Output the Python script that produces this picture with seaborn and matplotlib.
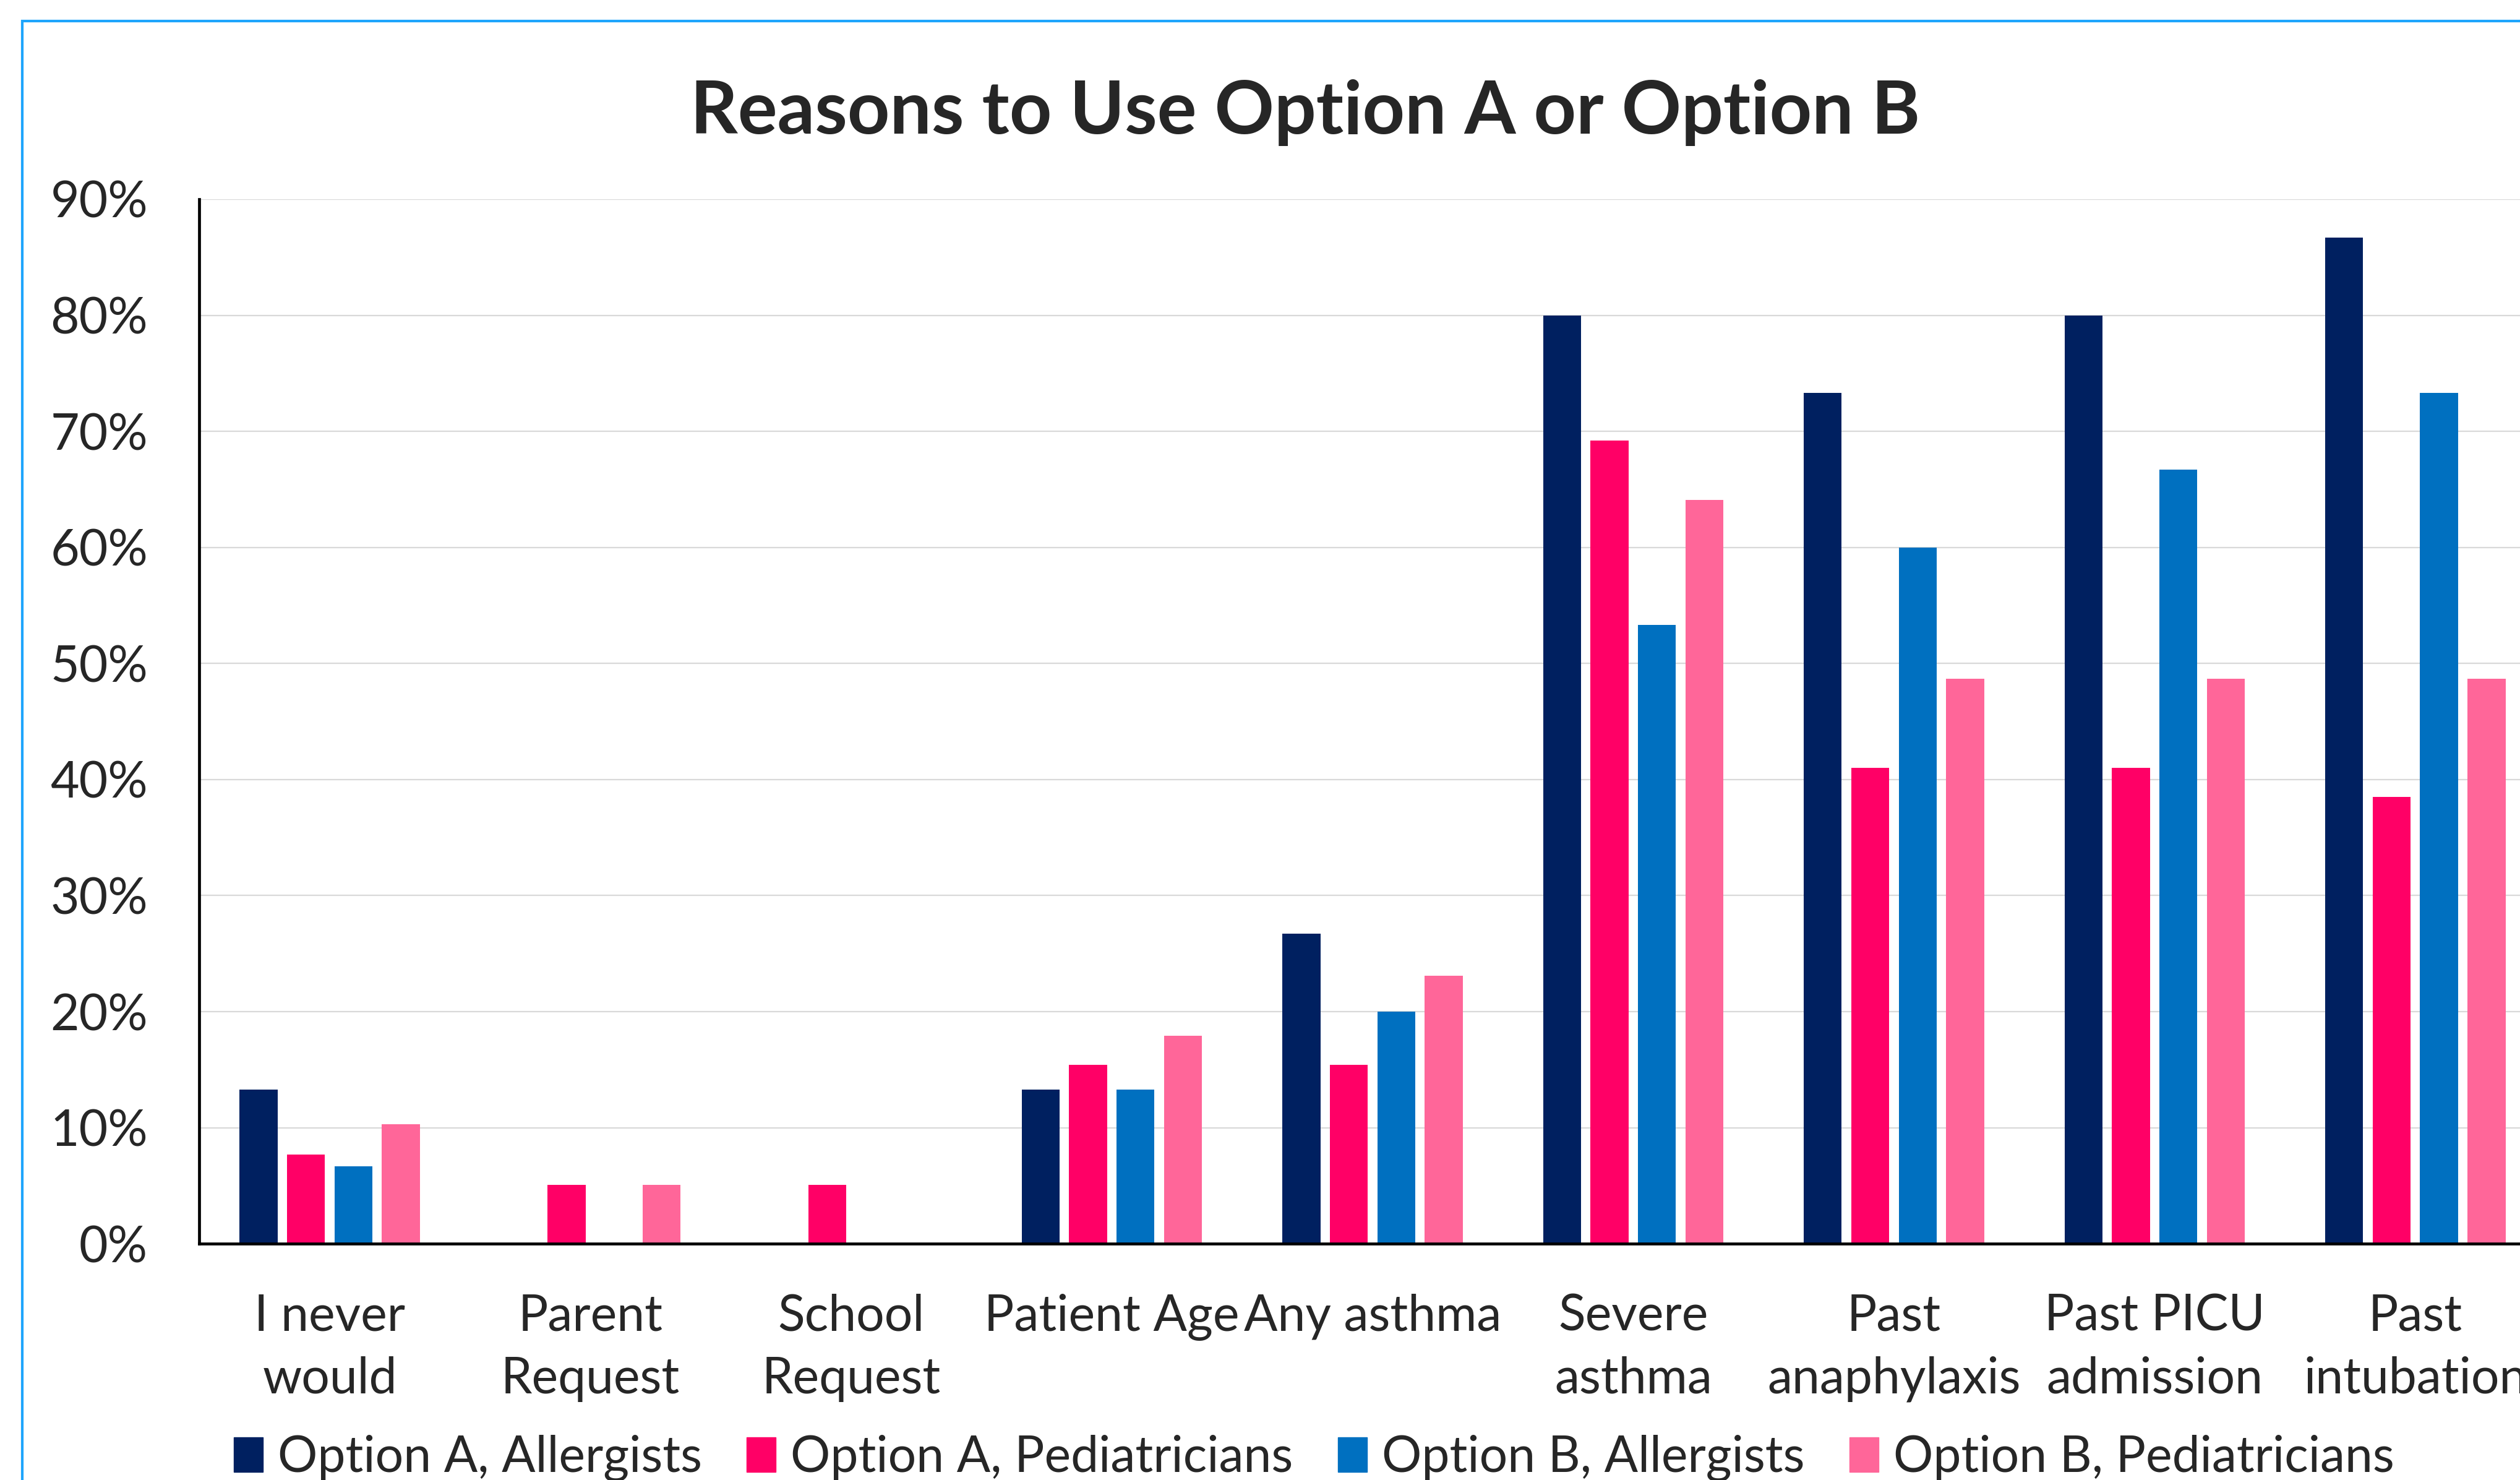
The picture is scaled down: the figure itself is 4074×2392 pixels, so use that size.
import matplotlib.pyplot as plt
import matplotlib.patches as mpatches
import pandas as pd
import seaborn as sns
from matplotlib.ticker import PercentFormatter, MultipleLocator

# data (percent of respondents)
categories = ['I never\nwould', 'Parent\nRequest', 'School\nRequest', 'Patient Age', 'Any asthma',
              'Severe\nasthma', 'Past\nanaphylaxis', 'Past PICU\nadmission', 'Past\nintubation']
series = ['Option A, Allergists', 'Option A, Pediatricians', 'Option B, Allergists', 'Option B, Pediatricians']
a_allergists = [13.3, 0, 0, 13.3, 26.7, 80.0, 73.3, 80.0, 86.7]
a_pediatricians = [7.7, 5.1, 5.1, 15.4, 15.4, 69.2, 41.0, 41.0, 38.5]
b_allergists = [6.7, 0, 0, 13.3, 20.0, 53.3, 60.0, 66.7, 73.3]
b_pediatricians = [10.3, 5.1, 0, 17.9, 23.1, 64.1, 48.7, 48.7, 48.7]
colors = ['#002060', '#FF0066', '#0070C0', '#FF6699']

values = [a_allergists, a_pediatricians, b_allergists, b_pediatricians]
df = pd.DataFrame({
    'reason': categories * len(series),
    'group': [s for s in series for _ in categories],
    'pct': [v for vals in values for v in vals],
})

sns.set_style('white')
plt.rcParams['font.family'] = ['Lato', 'DejaVu Sans']

fig = plt.figure(figsize=(40.74, 23.92), dpi=100)
ax = fig.add_axes([0.0791, 0.1596, 0.9311, 0.7058])

sns.barplot(data=df, x='reason', y='pct', hue='group', order=categories, hue_order=series,
            palette=colors, saturation=1, width=0.728, gap=0.2, linewidth=0, ax=ax, legend=False)

ax.set_xlim(-0.5, 8.5)
ax.set_ylim(0, 90)
ax.yaxis.set_major_locator(MultipleLocator(10))
ax.yaxis.set_major_formatter(PercentFormatter(xmax=100, decimals=0))
ax.grid(axis='y', color='#D9D9D9', linewidth=1.6)
ax.set_axisbelow(True)
ax.set_xlabel('')
ax.set_ylabel('')

for side in ['top', 'right']:
    ax.spines[side].set_visible(False)
for side in ['left', 'bottom']:
    ax.spines[side].set_color('black')
    ax.spines[side].set_linewidth(3.4)

ax.tick_params(axis='y', length=0, pad=60, labelsize=58)
ax.tick_params(axis='x', length=0, pad=58, labelsize=58)
for lbl in ax.get_xticklabels():
    lbl.set_linespacing(1.45)

fig.text(0.518, 0.924, 'Reasons to Use Option A or Option B', ha='center', va='center',
         fontsize=86, fontweight='bold')

handles = [mpatches.Patch(color=c, label=s) for c, s in zip(colors, series)]
fig.legend(handles=handles, loc='center', bbox_to_anchor=(0.5214, 0.0145), ncol=4,
           frameon=False, fontsize=58, handlelength=0.58, handleheight=0.68,
           handletextpad=0.3, columnspacing=0.9)

# blue chart-area border, cut by the image on right and bottom
fig.add_artist(mpatches.Rectangle((0.0089, -0.1), 1.2, 1.0859, transform=fig.transFigure,
                                  fill=False, edgecolor='#1EA5FC', linewidth=3))

fig.savefig('out.png', dpi=100)
